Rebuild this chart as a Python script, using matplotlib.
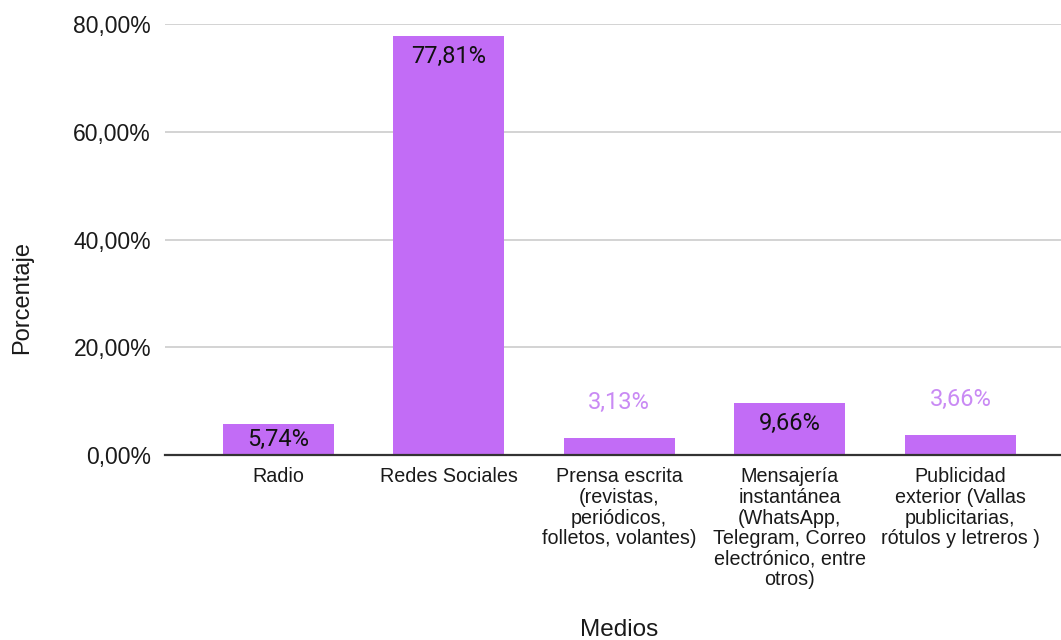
import matplotlib
matplotlib.use("Agg")
import matplotlib.pyplot as plt

categories = [
    "Radio",
    "Redes Sociales",
    "Prensa escrita\n(revistas,\nperiódicos,\nfolletos, volantes)",
    "Mensajería\ninstantánea\n(WhatsApp,\nTelegram, Correo\nelectrónico, entre\notros)",
    "Publicidad\nexterior (Vallas\npublicitarias,\nrótulos y letreros )",
]
values = [5.74, 77.81, 3.13, 9.66, 3.66]
labels = ["5,74%", "77,81%", "3,13%", "9,66%", "3,66%"]
yticks = [0, 20, 40, 60, 80]
ytick_labels = ["0,00%", "20,00%", "40,00%", "60,00%", "80,00%"]

bar_color = "#c26cf6"
out_label_color = "#c98af4"

fig = plt.figure(figsize=(10.61, 6.40), dpi=100)
ax = fig.add_axes([165/1061, 1 - 455/640, 1 - 165/1061, (455 - 24)/640])

x = list(range(len(values)))
bars = ax.bar(x, values, width=0.65, color=bar_color, zorder=3)

ax.set_xlim(-0.663, 4.59)
ax.set_ylim(0, 80)
ax.set_yticks(yticks)
ax.set_yticklabels(ytick_labels, fontsize=16.5, family="Liberation Sans", color="#1a1a1a")
ax.set_xticks(x)
ax.set_xticklabels(categories, fontsize=14.2, family="Liberation Sans", color="#1a1a1a",
                   linespacing=1.1)
ax.tick_params(axis="both", length=0)
ax.tick_params(axis="x", pad=9)
ax.tick_params(axis="y", pad=10)

ax.grid(axis="y", color="#cccccc", linewidth=1.2, zorder=0)
for s in ["top", "right", "left"]:
    ax.spines[s].set_visible(False)
ax.spines["bottom"].set_color("#333333")
ax.spines["bottom"].set_linewidth(1.6)
ax.spines["bottom"].set_zorder(4)

# pixels per data unit
ppu = 431 / 80.0
for xi, v, lab in zip(x, values, labels):
    hpx = v * ppu
    if hpx >= 28:
        off = min(21, hpx / 2)
        ax.annotate(lab, (xi, v), xytext=(0, -off * 0.72), textcoords="offset points",
                    ha="center", va="center", fontsize=17, family="Roboto",
                    color="#111111", zorder=5)
    else:
        ax.annotate(lab, (xi, v), xytext=(0, 36 * 0.72), textcoords="offset points",
                    ha="center", va="center", fontsize=17, family="Roboto",
                    color=out_label_color, zorder=5)

fig.text(22/1061, 1 - 298/640, "Porcentaje", rotation=90, ha="center", va="center",
         fontsize=17, family="Liberation Sans", color="#1a1a1a")
fig.text(619/1061, 1 - 630/640, "Medios", ha="center", va="center",
         fontsize=17.5, family="Liberation Sans", color="#1a1a1a")

fig.savefig("out.png", dpi=100)
